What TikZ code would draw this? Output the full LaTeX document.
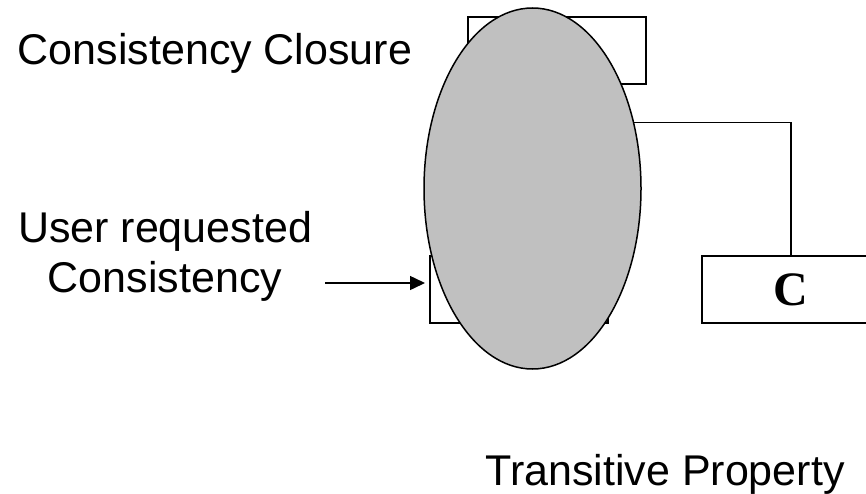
\documentclass[tikz,border=0pt]{standalone}
\usepackage{fontspec}
\setmainfont{Liberation Sans}
\newfontfamily\serifbf{Liberation Serif}
\usepackage{xcolor}
\usetikzlibrary{shapes.geometric, arrows.meta}
\definecolor{silver}{HTML}{C0C0C0}
\tikzset{
    box/.style={draw, line width=2pt, minimum width=178pt, minimum height=67pt, inner sep=0pt},
    lbl/.style={font=\fontsize{43}{50}\selectfont, inner sep=0pt},
    arr/.style={-{Triangle[length=15pt,width=14pt]}, line width=1.5pt}
}
\begin{document}
\begin{tikzpicture}[x=1pt, y=-1pt]
        \useasboundingbox (0,0) rectangle (866,494);
        % boxes behind the ellipse
        \node[box] (topbox) at (556.5,51) {};
        \node[box] (lbox) at (519,289.5) {};
        \node[draw, line width=1.5pt, fill=silver, ellipse, minimum width=217pt, minimum height=361pt, inner sep=0pt] (ell) at (532.5,188.5) {};
        % right branch
        \node[box] (cbox) at (791,289.5) {\fontsize{48}{48}\selectfont\serifbf\bfseries C};
        \draw[line width=1.5pt] (ell.33) -| (cbox.north);
        % labels
        \node[lbl, anchor=base] (closure) at (215,65) {Consistency Closure};
        \node[lbl, align=center, anchor=base] (user) at (165,292) {User requested\\Consistency};
        \node[lbl, anchor=base] (trans) at (665,485) {Transitive Property};
        \coordinate (arrstart) at (325,283);
        \draw[arr, shorten >=4pt] (arrstart) -- (arrstart -| lbox.west);
    \end{tikzpicture}
\end{document}
